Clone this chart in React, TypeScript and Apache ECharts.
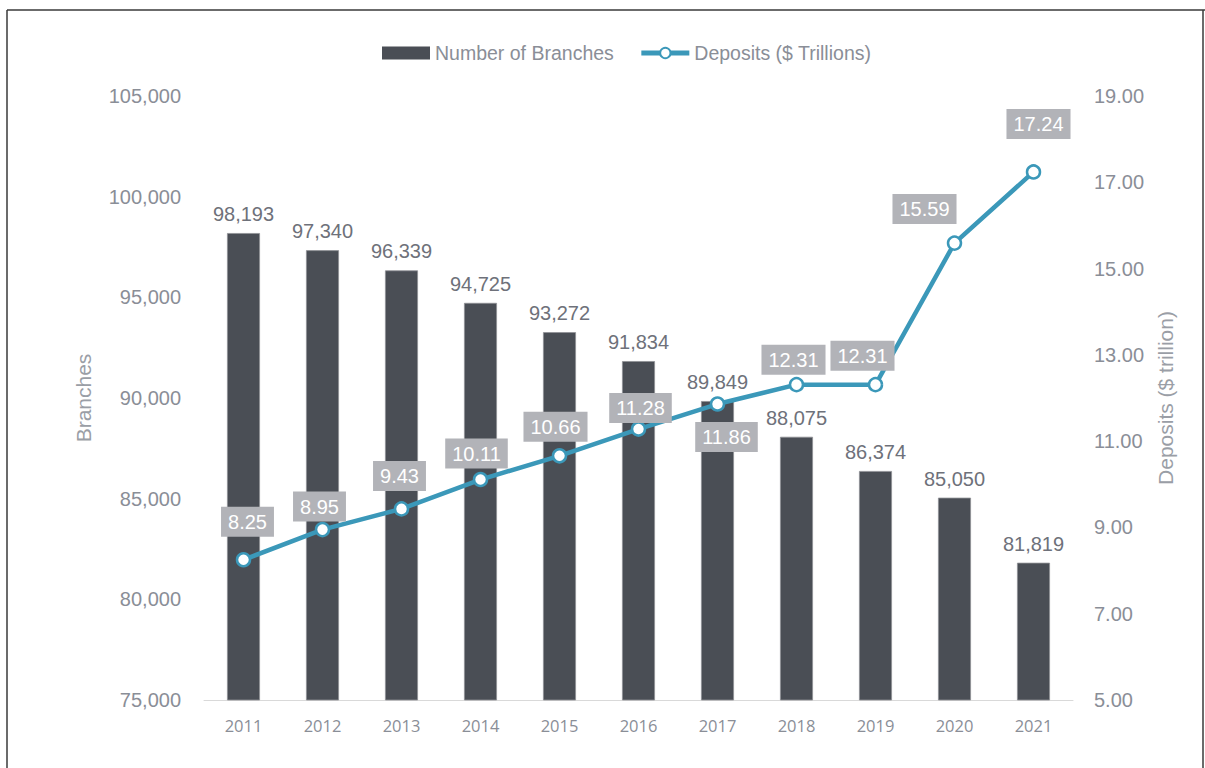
import React, { useEffect, useRef } from "react";
import * as echarts from "echarts";

const years = ["2011", "2012", "2013", "2014", "2015", "2016", "2017", "2018", "2019", "2020", "2021"];
const branches = [98193, 97340, 96339, 94725, 93272, 91834, 89849, 88075, 86374, 85050, 81819];
const deposits = [8.25, 8.95, 9.43, 10.11, 10.66, 11.28, 11.86, 12.31, 12.31, 15.59, 17.24];
// label placement offsets (relative to each point) for the deposit labels
const depositLabelOffsets: [number, number][] = [
  [4, -38], [-3, -23], [-2, -33], [-4, -26], [-4, -29], [2, -21],
  [9, 33], [-3, -25], [-13, -29], [-30, -34], [5, -48],
];

const FONT = "'Liberation Sans', Arial, Helvetica, sans-serif";
const GRAY_TEXT = "#8a8e97";
const BAR_COLOR = "#4a4e55";
const LINE_COLOR = "#3b98b9";

export default function App() {
  const ref = useRef<HTMLDivElement>(null);
  useEffect(() => {
    if (!ref.current) return;
    const chart = echarts.init(ref.current, null, { renderer: "svg" });
    chart.setOption({
      animation: false,
      backgroundColor: "#ffffff",
      textStyle: { fontFamily: FONT },
      graphic: [
        { type: "line", shape: { x1: 7, y1: 10, x2: 1205, y2: 10 }, style: { stroke: "#3a3a3a", lineWidth: 1.5 } },
        { type: "line", shape: { x1: 7, y1: 10, x2: 7, y2: 768 }, style: { stroke: "#3a3a3a", lineWidth: 1.5 } },
        { type: "line", shape: { x1: 1203, y1: 10, x2: 1203, y2: 768 }, style: { stroke: "#3a3a3a", lineWidth: 1.5 } },
      ],
      legend: {
        left: 377,
        top: 38,
        itemWidth: 48,
        itemHeight: 13,
        itemGap: 25,
        textStyle: { color: GRAY_TEXT, fontSize: 19.5, fontFamily: FONT },
        lineStyle: { width: 5 },
        data: [
          { name: "Number of Branches", icon: "rect", itemStyle: { borderWidth: 0 } },
          { name: "Deposits ($ Trillions)" },
        ],
      },
      grid: { left: 204, right: 132, top: 96, bottom: 68 },
      xAxis: {
        type: "category",
        data: years,
        axisLine: { lineStyle: { color: "#d9d9d9", width: 1 } },
        axisTick: { show: false },
        axisLabel: { color: GRAY_TEXT, fontSize: 16.5, fontFamily: "'Open Sans', sans-serif", margin: 17 },
      },
      yAxis: [
        {
          type: "value",
          min: 75000,
          max: 105000,
          interval: 5000,
          name: "Branches",
          nameLocation: "middle",
          nameGap: 110,
          nameTextStyle: { color: "#9a9ea6", fontSize: 21, fontFamily: FONT },
          axisLine: { show: false },
          axisTick: { show: false },
          splitLine: { show: false },
          axisLabel: {
            color: GRAY_TEXT,
            fontSize: 20,
            margin: 23,
            formatter: (v: number) => v.toLocaleString("en-US"),
          },
        },
        {
          type: "value",
          min: 5,
          max: 19,
          interval: 1,
          name: "Deposits ($ trillion)",
          nameLocation: "middle",
          nameRotate: 90,
          nameGap: 76,
          nameTextStyle: { color: "#9a9ea6", fontSize: 21, fontFamily: FONT },
          axisLine: { show: false },
          axisTick: { show: false },
          splitLine: { show: false },
          axisLabel: {
            color: GRAY_TEXT,
            fontSize: 20,
            margin: 21,
            formatter: (v: number) => (Math.round(v - 5) % 2 === 0 ? v.toFixed(2) : ""),
          },
        },
      ],
      series: [
        {
          name: "Number of Branches",
          type: "bar",
          yAxisIndex: 0,
          data: branches,
          barWidth: 33,
          itemStyle: { color: BAR_COLOR, borderColor: "#8f9196", borderWidth: 0.8 },
          label: {
            show: true,
            position: "top",
            distance: 9,
            color: "#6e717a",
            fontSize: 20,
            fontFamily: FONT,
            formatter: (p: any) => Number(p.value).toLocaleString("en-US"),
          },
        },
        {
          name: "Deposits ($ Trillions)",
          type: "line",
          yAxisIndex: 1,
          data: deposits.map((v, i) => ({
            value: v,
            label: { offset: depositLabelOffsets[i] },
          })),
          symbol: "circle",
          symbolSize: 13,
          lineStyle: { color: LINE_COLOR, width: 4.5 },
          itemStyle: { color: "#ffffff", borderColor: LINE_COLOR, borderWidth: 2.5 },
          z: 5,
          label: {
            show: true,
            position: "inside",
            color: "#ffffff",
            fontSize: 20,
            lineHeight: 20,
            fontFamily: FONT,
            backgroundColor: "#b2b3b8",
            padding: [5, 7],
            formatter: (p: any) => Number(p.value).toFixed(2),
          },
        },
      ],
    });
    return () => chart.dispose();
  }, []);
  return (
    <div
      ref={ref}
      style={{ position: "fixed", left: 0, top: 0, width: 1205, height: 768 }}
    />
  );
}
